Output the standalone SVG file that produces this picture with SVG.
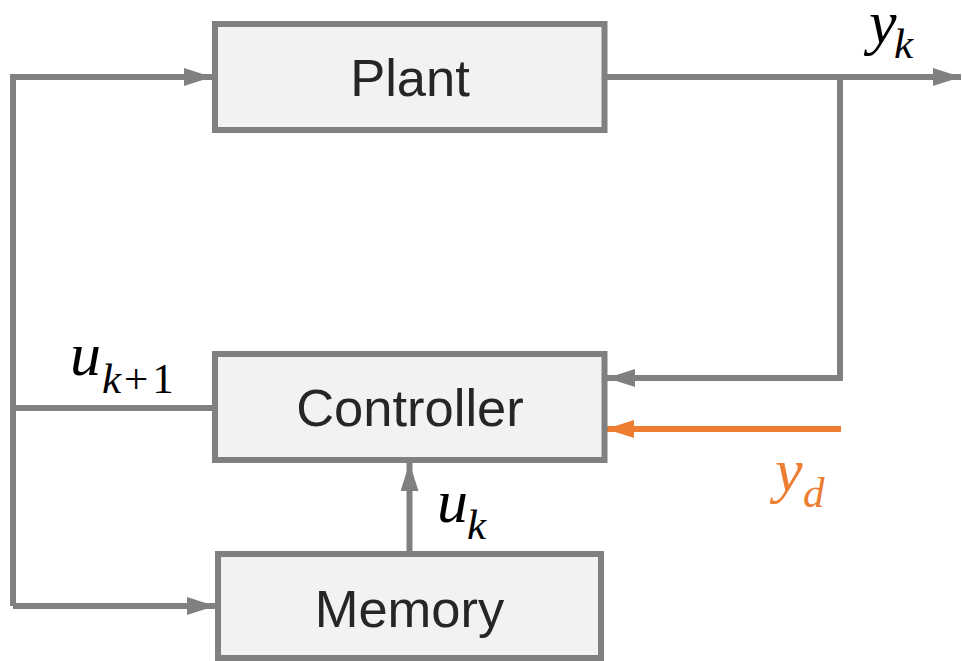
<svg xmlns="http://www.w3.org/2000/svg" width="962" height="661" viewBox="0 0 962 661">
<style>
.box{fill:#f2f2f2;stroke:#808080;stroke-width:6}
.lbl{font-family:"Liberation Sans",Arial,sans-serif;font-size:52.5px;fill:#262626;text-anchor:middle}
.ln{fill:none;stroke:#808080;stroke-width:6}
.or{fill:none;stroke:#ed7d31;stroke-width:6}
.m{font-family:"Liberation Serif","Times New Roman",serif;font-style:italic;fill:#000}
.mm{font-size:62px}
.ms{font-size:43px}
.up{font-style:normal}
</style>
<defs>
<marker id="ag" viewBox="0 0 28 18" refX="28" refY="9" markerWidth="28" markerHeight="18" markerUnits="userSpaceOnUse" orient="auto"><path d="M0,0 L28,9 L0,18 Z" fill="#808080"/></marker>
<marker id="ao" viewBox="0 0 28 18" refX="28" refY="9" markerWidth="28" markerHeight="18" markerUnits="userSpaceOnUse" orient="auto"><path d="M0,0 L28,9 L0,18 Z" fill="#ed7d31"/></marker>
</defs>
<g id="connectors">
<path class="ln" d="M13,606 V77 H212" marker-end="url(#ag)"/>
<path class="ln" d="M13,606 H215" marker-end="url(#ag)"/>
<path class="ln" d="M212,408 H13"/>
<path class="ln" d="M607,77 H961" marker-end="url(#ag)"/>
<path class="ln" d="M840,77 V378 H607" marker-end="url(#ag)"/>
<path class="or" d="M841,429 H606" marker-end="url(#ao)"/>
<path class="ln" d="M409.5,551 V463" marker-end="url(#ag)"/>
</g>
<g id="plant">
<rect class="box" x="215" y="24" width="389.5" height="106"/>
<text class="lbl" x="410" y="96">Plant</text>
</g>
<g id="controller">
<rect class="box" x="215" y="354" width="389.5" height="106"/>
<text class="lbl" x="410" y="426">Controller</text>
</g>
<g id="memory">
<rect class="box" x="218" y="554" width="383" height="104"/>
<text class="lbl" x="409.5" y="627">Memory</text>
</g>
<g id="labels">
<text class="m"><tspan class="mm" x="869" y="43">y</tspan><tspan class="ms" x="894" y="58">k</tspan></text>
<text class="m"><tspan class="mm" x="70" y="375">u</tspan><tspan class="ms" x="102" y="393">k</tspan><tspan class="ms up" dx="3">+</tspan><tspan class="ms up" dx="4">1</tspan></text>
<text class="m"><tspan class="mm" x="437" y="522">u</tspan><tspan class="ms" x="467" y="539">k</tspan></text>
<text class="m" style="fill:#ed7d31"><tspan class="mm" x="775" y="491">y</tspan><tspan class="ms" x="803" y="507">d</tspan></text>
</g>
</svg>
